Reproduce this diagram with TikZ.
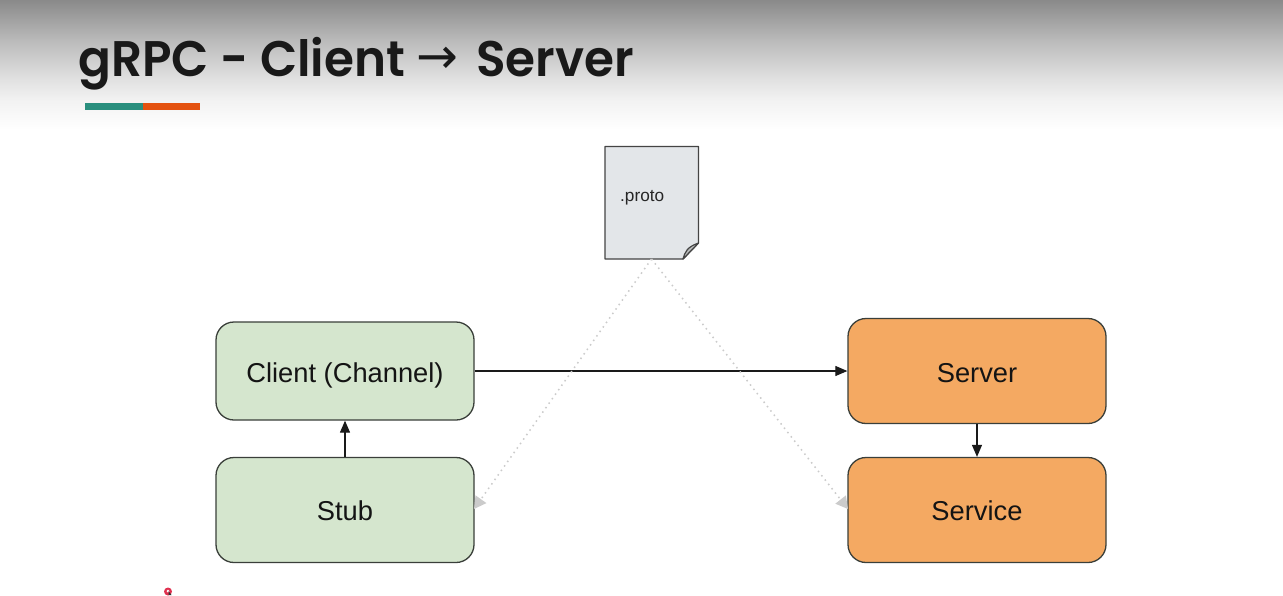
\documentclass[tikz,border=0pt]{standalone}
\usepackage{fontspec}
\setmainfont{Liberation Sans}
\newfontfamily\titlefont[FakeStretch=0.97]{Poppins SemiBold}
\newfontfamily\symfont{DejaVu Sans}
\usetikzlibrary{arrows.meta}
\definecolor{boxline}{HTML}{3A3F3A}
\definecolor{greenfill}{HTML}{D5E6CE}
\definecolor{orangefill}{HTML}{F4A962}
\definecolor{docfill}{HTML}{E3E6E9}
\definecolor{docline}{HTML}{444444}
\definecolor{foldfill}{HTML}{B8BABA}
\definecolor{inkline}{HTML}{1A1A1A}
\definecolor{ghost}{HTML}{CBCBCB}
\definecolor{tealbar}{HTML}{2A8F7E}
\definecolor{orangebar}{HTML}{E4520F}
\definecolor{pointerred}{HTML}{E0304F}
\pgfdeclareverticalshading{hdrfade}{100bp}{color(0bp)=(white); color(25bp)=(white); color(36.5bp)=(white!95!black); color(46bp)=(white!87!black); color(59.5bp)=(white!73!black); color(75bp)=(white!54!black); color(100bp)=(white!54!black)}
\tikzset{
  x=1pt,y=-1pt,
  roundbox/.style={draw=boxline,line width=1.3pt,rounded corners=18pt,minimum width=258pt,inner sep=0pt,font=\fontsize{27.3}{30}\selectfont,text=black!92,text depth=0pt},
  greenbox/.style={roundbox,fill=greenfill,minimum height=98pt,text height=22pt},
  orangebox/.style={roundbox,fill=orangefill,minimum height=105pt,text height=22pt},
  solidarrow/.style={draw=inkline,line width=1.15pt,-{Triangle[length=12pt,width=10pt,fill=inkline]}},
  ghostarrow/.style={draw=ghost,line width=1.5pt,dash pattern=on 1.5pt off 4pt,-{Triangle[length=12pt,width=13pt,fill=ghost,color=ghost,sep=0pt]}},
}
\begin{document}
\begin{tikzpicture}
\useasboundingbox (0,0) rectangle (1283,595);
\fill[white] (0,0) rectangle (1283,595);
\shade[shading=hdrfade] (0,0) rectangle (1283,130);
\node[anchor=base west,inner sep=0pt,font=\titlefont\fontsize{50}{60}\selectfont,text=black!90] (title) at (78,76) {gRPC - Client \raisebox{3pt}{\symfont\fontsize{50}{52}\selectfont →}\hspace{6pt} Server};
\fill[tealbar] (85,102.5) rectangle (143,110);
\fill[orangebar] (143,102.5) rectangle (200,110);
% document
\coordinate (d1) at (605,146.5);
\coordinate (d2) at (698.5,146.5);
\coordinate (d3) at (698.5,243);
\coordinate (d4) at (683,259);
\coordinate (d5) at (605,259);
\draw[fill=docfill,draw=docline,line width=1.3pt,line join=round] (d1) -- (d2) -- (d3) -- (d4) -- (d5) -- cycle;
\draw[fill=foldfill,draw=docline,line width=1.2pt,line join=round] (d3) -- (d4) .. controls (685,252) and (687,247) .. (d3) -- cycle;
\node[inner sep=0pt,font=\fontsize{17.2}{20}\selectfont,text=black!85,anchor=base west] (proto) at (620,201) {.proto};
\coordinate (docbottom) at (651.5,259);
% boxes
\node[greenbox] (client) at (345,371) {Client (Channel)};
\node[greenbox,minimum height=105pt,text height=20pt] (stub) at (345,510) {Stub};
\node[orangebox] (server) at (977,371) {Server};
\node[orangebox,text height=20pt] (service) at (977,510) {Service};
% connectors
\draw[solidarrow] (client.east) -- (server.west);
\draw[solidarrow] (stub.north) -- (client.south);
\draw[solidarrow] (server.south) -- (service.north);
\coordinate (stubin) at (474,509);
\coordinate (servicein) at (848,509);
\draw[ghostarrow] (docbottom) -- (stubin);
\draw[ghostarrow] (docbottom) -- (servicein);
% pointer mark
\fill[pointerred] (168,591.5) circle (4pt);
\fill[white] (168,591) circle (1.5pt);
\fill[black!80] (168.5,591) -- (168.5,595) -- (171.5,595) -- cycle;
\end{tikzpicture}
\end{document}
